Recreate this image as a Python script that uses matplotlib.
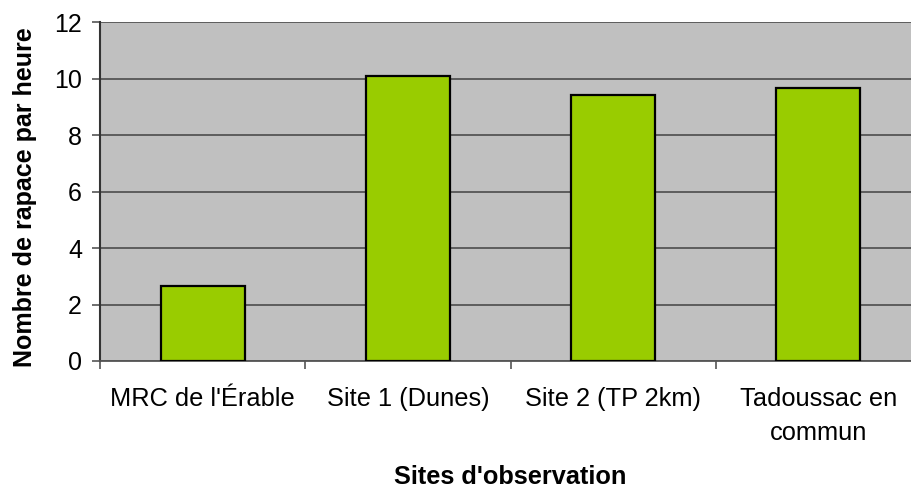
import matplotlib
matplotlib.use("Agg")
import matplotlib.pyplot as plt
from matplotlib.ticker import FixedLocator

categories = ["MRC de l'Érable", "Site 1 (Dunes)", "Site 2 (TP 2km)", "Tadoussac en\ncommun"]
values = [2.67, 10.1, 9.4, 9.66]
yticks = [0, 2, 4, 6, 8, 10, 12]

plt.rcParams['font.family'] = ['Liberation Sans', 'DejaVu Sans']

W, H = 911, 490
fig = plt.figure(figsize=(W / 100, H / 100), dpi=100)
left, right, top, bottom = 100, 921, 22, 361
ax = fig.add_axes([left / W, 1 - bottom / H, (right - left) / W, (bottom - top) / H])
ax.set_facecolor('#C0C0C0')

x = list(range(len(categories)))
ax.bar(x, values, width=0.41, color='#99CC00', edgecolor='black', linewidth=1.6, zorder=3)

ax.set_xlim(-0.5, len(categories) - 0.5)
ax.set_ylim(0, 12)
ax.set_yticks(yticks)
ax.set_yticklabels([str(v) for v in yticks], fontsize=18)
ax.yaxis.grid(True, color='#555555', linewidth=1.3, zorder=1)
ax.set_axisbelow(True)

ax.set_xticks(x)
ax.set_xticklabels(categories, fontsize=18.3, linespacing=1.5)
ax.tick_params(axis='x', which='major', length=0, pad=19)
ax.xaxis.set_minor_locator(FixedLocator([i - 0.5 for i in range(len(categories) + 1)]))
ax.tick_params(axis='x', which='minor', length=6, width=1.2, color='#555555')
ax.tick_params(axis='y', length=6, width=1.2, color='#555555', pad=7)

for s in ['top', 'right']:
    ax.spines[s].set_visible(False)
ax.spines['left'].set_color('#333333')
ax.spines['left'].set_linewidth(1.5)
ax.spines['bottom'].set_color('#555555')
ax.spines['bottom'].set_linewidth(1.3)

ax.set_ylabel('Nombre de rapace par heure', fontsize=18, fontweight='bold')
ax.yaxis.set_label_coords(-63 / (right - left), (361 - 197) / (bottom - top))
fig.text(510 / W, 1 - 484 / H, "Sites d'observation", fontsize=18.3, fontweight='bold',
         ha='center', va='baseline')

fig.savefig('out.png', dpi=100)
